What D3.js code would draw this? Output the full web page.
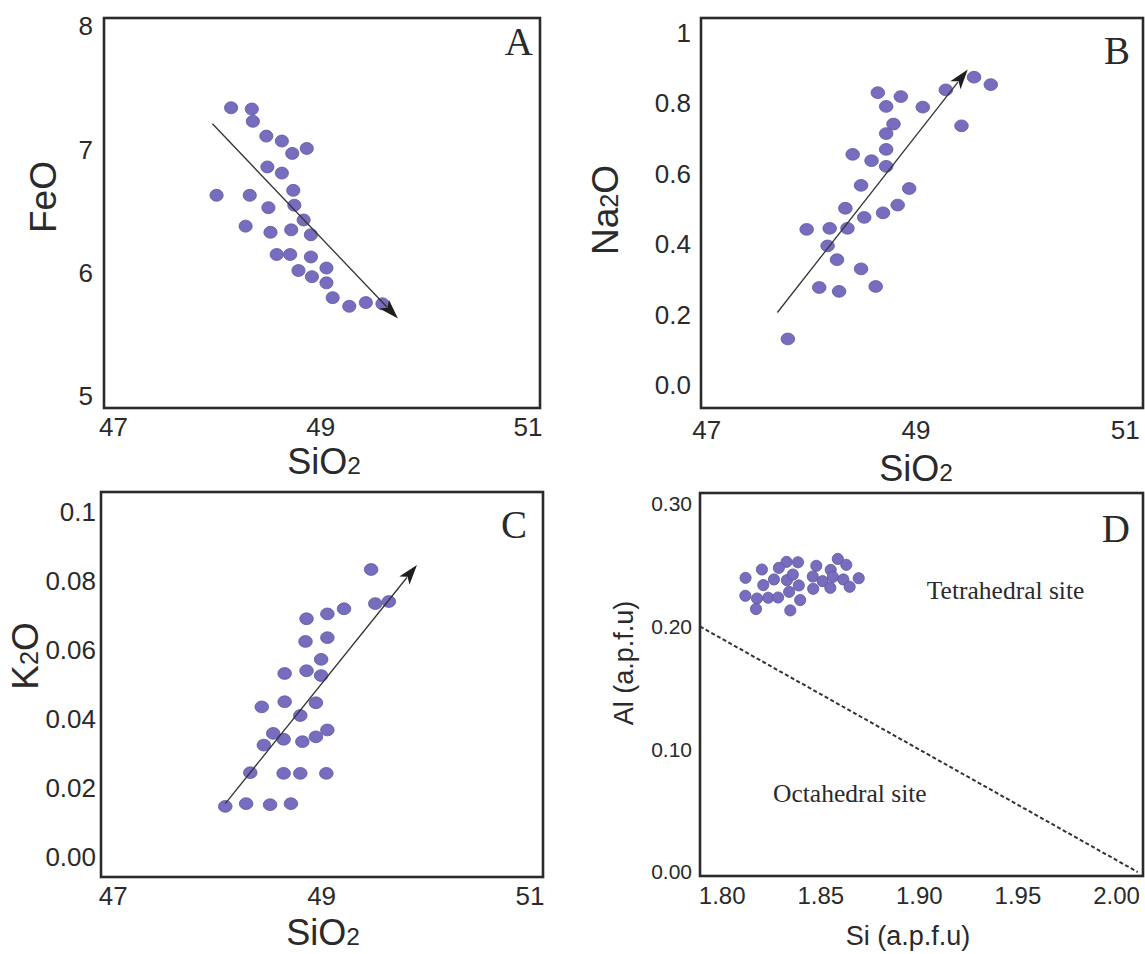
<!DOCTYPE html>
<html>
<head>
<meta charset="utf-8">
<script src="https://cdn.jsdelivr.net/npm/d3@7"></script>
<style>
  html, body { margin: 0; padding: 0; background: #ffffff; }
  svg { display: block; }
</style>
</head>
<body>
<svg id="chart" width="1145" height="954"></svg>
<script>
// ---------------- DATA ----------------
// Panel A: FeO vs SiO2
const aSiO2 = [48.14,48.34,48.35,48.48,48.63,48.73,48.87,48.49,48.63,48.74,48.00,48.32,48.50,48.75,48.84,48.28,48.52,48.72,48.91,48.58,48.71,48.91,48.79,49.06,48.92,49.06,49.12,49.28,49.44,49.60];
const aFeO  = [7.34,7.33,7.23,7.11,7.07,6.97,7.01,6.86,6.81,6.67,6.63,6.63,6.53,6.55,6.43,6.38,6.33,6.35,6.31,6.15,6.15,6.13,6.02,6.04,5.97,5.92,5.80,5.73,5.76,5.75];
const aArrow = [[47.96, 7.21], [49.75, 5.63]];

// Panel B: Na2O vs SiO2
const bSiO2 = [48.64,48.86,48.72,49.07,49.29,49.56,49.72,49.44,48.79,48.72,48.72,48.40,48.58,48.72,48.48,48.94,48.33,48.83,48.51,48.69,47.96,48.18,48.35,48.16,48.25,48.48,48.08,48.27,48.62,47.78];
const bNa2O = [0.831,0.820,0.792,0.790,0.839,0.875,0.854,0.737,0.742,0.715,0.670,0.656,0.638,0.622,0.568,0.559,0.503,0.512,0.477,0.490,0.443,0.446,0.446,0.396,0.357,0.331,0.278,0.267,0.281,0.132];
const bArrow = [[47.68, 0.207], [49.50, 0.897]];

// Panel C: K2O vs SiO2
const cSiO2 = [49.48,49.52,49.65,49.22,49.06,48.86,48.85,49.06,49.00,48.65,48.86,49.00,48.43,48.65,48.95,48.80,48.54,48.45,48.64,48.82,48.95,49.06,48.32,48.64,48.80,49.05,48.08,48.28,48.51,48.71];
const cK2O  = [0.0835,0.0736,0.0742,0.0721,0.0706,0.0692,0.0626,0.0637,0.0574,0.0533,0.0541,0.0527,0.0436,0.0451,0.0448,0.0411,0.0359,0.0325,0.0342,0.0335,0.0349,0.0369,0.0245,0.0243,0.0243,0.0243,0.0147,0.0155,0.0152,0.0155];
const cArrow = [[48.08, 0.0155], [49.92, 0.0848]];

// Panel D: Al vs Si (a.p.f.u)
const dSi = [1.8329,1.8387,1.8290,1.8204,1.8480,1.8589,1.8632,1.8553,1.8121,1.8265,1.8331,1.8361,1.8211,1.8391,1.8462,1.8512,1.8564,1.8617,1.8695,1.8649,1.8551,1.8464,1.8342,1.8120,1.8179,1.8236,1.8286,1.8398,1.8174,1.8348];
const dAl = [0.2526,0.2523,0.2477,0.2464,0.2494,0.2550,0.2502,0.2461,0.2396,0.2383,0.2377,0.2423,0.2337,0.2334,0.2407,0.2369,0.2404,0.2383,0.2393,0.2323,0.2315,0.2307,0.2282,0.2250,0.2228,0.2234,0.2236,0.2215,0.2142,0.2131];
const dDivider = [[1.789, 0.20], [2.011, 0.0]];

// Tick labels
const sioTicks = [47, 49, 51];
const feoTicks = [5, 6, 7, 8];
const na2oTicks = [0.0, 0.2, 0.4, 0.6, 0.8, 1];
const na2oLabels = ["0.0", "0.2", "0.4", "0.6", "0.8", "1"];
const k2oTicks = [0.00, 0.02, 0.04, 0.06, 0.08, 0.1];
const k2oLabels = ["0.00", "0.02", "0.04", "0.06", "0.08", "0.1"];
const siTicks = [1.80, 1.85, 1.90, 1.95, 2.00];
const siLabels = ["1.80", "1.85", "1.90", "1.95", "2.00"];
const alTicks = [0.00, 0.10, 0.20, 0.30];
const alLabels = ["0.00", "0.10", "0.20", "0.30"];

// ---------------- STYLE ----------------
const SANS = "'Liberation Sans', Arial, Helvetica, sans-serif";
const SERIF = "'Liberation Serif', 'Times New Roman', serif";
const DOT_FILL = "#776dbf";
const DOT_STROKE = "#5e559f";
const FRAME = "#2b2b2b";
const TEXT = "#2a2a2a";

const svg = d3.select("#chart");

function panel(cfg) {
  const g = svg.append("g");
  const x = d3.scaleLinear().domain(cfg.xDomain).range([cfg.left, cfg.left + cfg.width]);
  const y = d3.scaleLinear().domain(cfg.yDomain).range([cfg.top + cfg.height, cfg.top]);

  const yAxis = d3.axisLeft(y).tickValues(cfg.yTicks).tickSize(0).tickPadding(cfg.yPad)
    .tickFormat((d, i) => cfg.yLabels ? cfg.yLabels[i] : String(d));
  const yg = g.append("g").attr("transform", `translate(${cfg.left},0)`).call(yAxis);
  yg.select(".domain").remove();
  yg.selectAll("text").attr("font-family", SANS).attr("font-size", cfg.yFont).attr("fill", TEXT);

  const xAxis = d3.axisBottom(x).tickValues(cfg.xTicks).tickSize(0).tickPadding(cfg.xPad)
    .tickFormat((d, i) => cfg.xLabels ? cfg.xLabels[i] : String(d));
  const xg = g.append("g").attr("transform", `translate(0,${cfg.top + cfg.height})`).call(xAxis);
  xg.select(".domain").remove();
  xg.selectAll("text").attr("font-family", SANS).attr("font-size", cfg.xFont).attr("fill", TEXT);

  g.append("rect")
    .attr("x", cfg.left).attr("y", cfg.top)
    .attr("width", cfg.width).attr("height", cfg.height)
    .attr("fill", "none").attr("stroke", FRAME).attr("stroke-width", 2.6);

  const xt = g.append("text")
    .attr("x", cfg.xTitlePos[0]).attr("y", cfg.xTitlePos[1])
    .attr("text-anchor", "middle").attr("font-family", SANS)
    .attr("font-size", cfg.xTitleFont).attr("fill", TEXT);
  cfg.xTitle.forEach(p => xt.append("tspan").attr("font-size", p[1] ? cfg.xTitleFont * 0.68 : cfg.xTitleFont).text(p[0]));

  const yt = g.append("text")
    .attr("transform", `translate(${cfg.yTitlePos[0]},${cfg.yTitlePos[1]}) rotate(-90)`)
    .attr("text-anchor", "middle").attr("font-family", SANS)
    .attr("font-size", cfg.yTitleFont).attr("fill", TEXT);
  cfg.yTitle.forEach(p => yt.append("tspan").attr("font-size", p[1] ? cfg.yTitleFont * 0.68 : cfg.yTitleFont).text(p[0]));

  g.append("text")
    .attr("x", cfg.letterPos[0]).attr("y", cfg.letterPos[1])
    .attr("text-anchor", "end").attr("font-family", SERIF)
    .attr("font-size", 39).attr("fill", TEXT).text(cfg.letter);

  const pts = cfg.xs.map((v, i) => [v, cfg.ys[i]]);
  g.append("g").selectAll("ellipse").data(pts).join("ellipse")
    .attr("cx", d => x(d[0])).attr("cy", d => y(d[1]))
    .attr("rx", cfg.rx).attr("ry", cfg.ry)
    .attr("fill", DOT_FILL).attr("stroke", DOT_STROKE).attr("stroke-width", 0.8);

  if (cfg.arrow) {
    const x1 = x(cfg.arrow[0][0]), y1 = y(cfg.arrow[0][1]);
    const x2 = x(cfg.arrow[1][0]), y2 = y(cfg.arrow[1][1]);
    const ang = Math.atan2(y2 - y1, x2 - x1);
    const L = 20, W = 6.5;
    const bx = x2 - L * Math.cos(ang), by = y2 - L * Math.sin(ang);
    g.append("line").attr("x1", x1).attr("y1", y1).attr("x2", bx + 4 * Math.cos(ang)).attr("y2", by + 4 * Math.sin(ang))
      .attr("stroke", "#333").attr("stroke-width", 1.3);
    const head = [
      [x2, y2],
      [bx - W * Math.sin(ang), by + W * Math.cos(ang)],
      [bx + 5 * Math.cos(ang), by + 5 * Math.sin(ang)],
      [bx + W * Math.sin(ang), by - W * Math.cos(ang)]
    ];
    g.append("path").attr("d", d3.line()(head) + "Z").attr("fill", "#1e1e1e");
  }

  return { g, x, y };
}

// Panel A
panel({
  left: 104, top: 18, width: 436, height: 390,
  xDomain: [46.914, 51.12], yDomain: [4.905, 8.068],
  xTicks: sioTicks, yTicks: feoTicks,
  yFont: 26, xFont: 26, yPad: 11, xPad: 10,
  xTitle: [["SiO", false], ["2", true]], xTitlePos: [324, 474], xTitleFont: 36,
  yTitle: [["FeO", false]], yTitlePos: [56, 197], yTitleFont: 37,
  letter: "A", letterPos: [533, 55],
  xs: aSiO2, ys: aFeO, rx: 6.6, ry: 6.0, arrow: aArrow
});

// Panel B
panel({
  left: 701, top: 18, width: 442, height: 390,
  xDomain: [46.95, 51.175], yDomain: [-0.064, 1.043],
  xTicks: sioTicks, yTicks: na2oTicks, yLabels: na2oLabels,
  yFont: 26, xFont: 26, yPad: 10, xPad: 13,
  xTitle: [["SiO", false], ["2", true]], xTitlePos: [916, 481], xTitleFont: 36,
  yTitle: [["Na", false], ["2", true], ["O", false]], yTitlePos: [618, 210], yTitleFont: 37,
  letter: "B", letterPos: [1130, 64],
  xs: bSiO2, ys: bNa2O, rx: 6.8, ry: 5.9, arrow: bArrow
});

// Panel C
panel({
  left: 101, top: 492, width: 442, height: 385,
  xDomain: [46.887, 51.13], yDomain: [-0.0058, 0.106],
  xTicks: sioTicks, yTicks: k2oTicks, yLabels: k2oLabels,
  yFont: 26, xFont: 26, yPad: 5, xPad: 10,
  xTitle: [["SiO", false], ["2", true]], xTitlePos: [323, 945], xTitleFont: 36,
  yTitle: [["K", false], ["2", true], ["O", false]], yTitlePos: [38, 656], yTitleFont: 37,
  letter: "C", letterPos: [527, 538],
  xs: cSiO2, ys: cK2O, rx: 6.8, ry: 5.9, arrow: cArrow
});

// Panel D
const pd = panel({
  left: 700, top: 493, width: 443, height: 383,
  xDomain: [1.789, 2.0137], yDomain: [-0.0032, 0.3087],
  xTicks: siTicks, xLabels: siLabels, yTicks: alTicks, yLabels: alLabels,
  yFont: 21, xFont: 24, yPad: 8, xPad: 11,
  xTitle: [["Si (a.p.f.u)", false]], xTitlePos: [908, 945], xTitleFont: 27,
  yTitle: [["Al (a.p.f.u)", false]], yTitlePos: [633, 663], yTitleFont: 27,
  letter: "D", letterPos: [1130, 542],
  xs: dSi, ys: dAl, rx: 5.6, ry: 5.6, arrow: null
});

pd.g.append("line")
  .attr("x1", pd.x(dDivider[0][0])).attr("y1", pd.y(dDivider[0][1]))
  .attr("x2", pd.x(dDivider[1][0])).attr("y2", pd.y(dDivider[1][1]))
  .attr("stroke", "#333").attr("stroke-width", 2).attr("stroke-dasharray", "4,2.5");

pd.g.append("text").attr("x", pd.x(1.944)).attr("y", 599)
  .attr("text-anchor", "middle").attr("font-family", SERIF).attr("font-size", 25.5)
  .attr("fill", TEXT).text("Tetrahedral site");
pd.g.append("text").attr("x", pd.x(1.865)).attr("y", 802)
  .attr("text-anchor", "middle").attr("font-family", SERIF).attr("font-size", 25.5)
  .attr("fill", TEXT).text("Octahedral site");
</script>
</body>
</html>
